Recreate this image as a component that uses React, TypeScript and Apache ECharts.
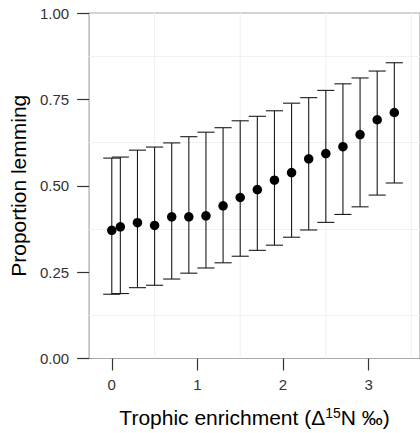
import React, { useEffect, useRef } from "react";
import * as echarts from "echarts";

const xValues = [0, 0.1, 0.3, 0.5, 0.7, 0.9, 1.1, 1.3, 1.5, 1.7, 1.9, 2.1, 2.3, 2.5, 2.7, 2.9, 3.1, 3.3];
const meanValues = [0.371, 0.381, 0.393, 0.385, 0.41, 0.41, 0.413, 0.442, 0.466, 0.489, 0.516, 0.538, 0.578, 0.593, 0.613, 0.648, 0.691, 0.712];
const lowerValues = [0.186, 0.188, 0.205, 0.212, 0.23, 0.247, 0.262, 0.277, 0.296, 0.313, 0.328, 0.351, 0.372, 0.394, 0.417, 0.439, 0.473, 0.508];
const upperValues = [0.58, 0.583, 0.603, 0.612, 0.624, 0.642, 0.655, 0.668, 0.688, 0.701, 0.717, 0.739, 0.755, 0.776, 0.795, 0.812, 0.832, 0.856];
const xTicks = [0, 1, 2, 3];
const xGridLines = [0.5, 1.5, 2.5, 3.5];
const capHalfWidth = 0.1;
const yMin = 0;
const yMax = 1;

const FONT = "'Liberation Sans', Arial, sans-serif";

export default function App() {
  const ref = useRef<HTMLDivElement>(null);
  useEffect(() => {
    document.body.style.margin = "0";
    if (!ref.current) return;
    const chart = echarts.init(ref.current, null, { renderer: "svg" });
    const errData = xValues.map((x, i) => [x, lowerValues[i], upperValues[i]]);
    const pointData = xValues.map((x, i) => [x, meanValues[i]]);
    chart.setOption({
      animation: false,
      textStyle: { fontFamily: FONT },
      grid: {
        left: 86,
        right: -5,
        top: 13,
        bottom: 73.7,
        show: true,
        borderColor: "#a8a8a8",
        borderWidth: 1.2,
        backgroundColor: "transparent",
      },
      xAxis: {
        type: "value",
        min: -0.265,
        max: 3.6,
        axisLine: { show: false, onZero: false },
        splitLine: { show: false },
        axisTick: { show: true, customValues: xTicks, length: 12, lineStyle: { color: "#333", width: 1.2 } },
        axisLabel: {
          customValues: xTicks,
          margin: 18,
          fontSize: 15,
          color: "#333",
          fontFamily: FONT,
        },
        name: "{a|Trophic enrichment (Δ}{s|15}{a|N ‰)}",
        nameLocation: "middle",
        nameGap: 47,
        nameTextStyle: {
          rich: {
            a: { fontSize: 21, color: "#000", fontFamily: FONT, lineHeight: 24 },
            s: { fontSize: 14, color: "#000", fontFamily: FONT, verticalAlign: "top", lineHeight: 14 },
          },
        },
      },
      yAxis: {
        type: "value",
        min: yMin,
        max: yMax,
        interval: 0.25,
        axisLine: { show: false, onZero: false },
        splitLine: { show: false },
        minorTick: { show: false, splitNumber: 2 },
        minorSplitLine: { show: true, lineStyle: { color: "#f1f1f1", width: 1.2 } },
        axisTick: { show: true, length: 12, lineStyle: { color: "#333", width: 1.2 } },
        axisLabel: {
          margin: 20,
          fontSize: 15,
          color: "#333",
          fontFamily: FONT,
          formatter: (v: number) => v.toFixed(2),
        },
        name: "Proportion lemming",
        nameLocation: "middle",
        nameGap: 56,
        nameTextStyle: { fontSize: 21, color: "#000", fontFamily: FONT },
      },
      series: [
        {
          type: "custom",
          data: xGridLines.map((v) => [v]),
          silent: true,
          z: 0,
          clip: true,
          renderItem: (params: any, api: any) => {
            const x = api.value(0);
            const p0 = api.coord([x, yMin]);
            const p1 = api.coord([x, yMax]);
            return {
              type: "line",
              shape: { x1: p0[0], y1: p0[1], x2: p1[0], y2: p1[1] },
              style: { stroke: "#f1f1f1", lineWidth: 1.2 },
            };
          },
        },
        {
          type: "custom",
          data: errData,
          z: 2,
          renderItem: (params: any, api: any) => {
            const x = api.value(0);
            const lo = api.value(1);
            const hi = api.value(2);
            const pLo = api.coord([x, lo]);
            const pHi = api.coord([x, hi]);
            const lLo = api.coord([x - capHalfWidth, lo]);
            const rLo = api.coord([x + capHalfWidth, lo]);
            const lHi = api.coord([x - capHalfWidth, hi]);
            const rHi = api.coord([x + capHalfWidth, hi]);
            const style = { stroke: "#1a1a1a", lineWidth: 1.1 };
            return {
              type: "group",
              children: [
                { type: "line", shape: { x1: pLo[0], y1: pLo[1], x2: pHi[0], y2: pHi[1] }, style },
                { type: "line", shape: { x1: lLo[0], y1: lLo[1], x2: rLo[0], y2: rLo[1] }, style },
                { type: "line", shape: { x1: lHi[0], y1: lHi[1], x2: rHi[0], y2: rHi[1] }, style },
              ],
            };
          },
        },
        {
          type: "scatter",
          data: pointData,
          z: 3,
          symbol: "circle",
          symbolSize: 9.5,
          itemStyle: { color: "#000", opacity: 1 },
        },
      ],
    });
    return () => chart.dispose();
  }, []);
  return (
    <div
      ref={ref}
      style={{ position: "absolute", left: 0, top: 0, width: 420, height: 433 }}
    />
  );
}
